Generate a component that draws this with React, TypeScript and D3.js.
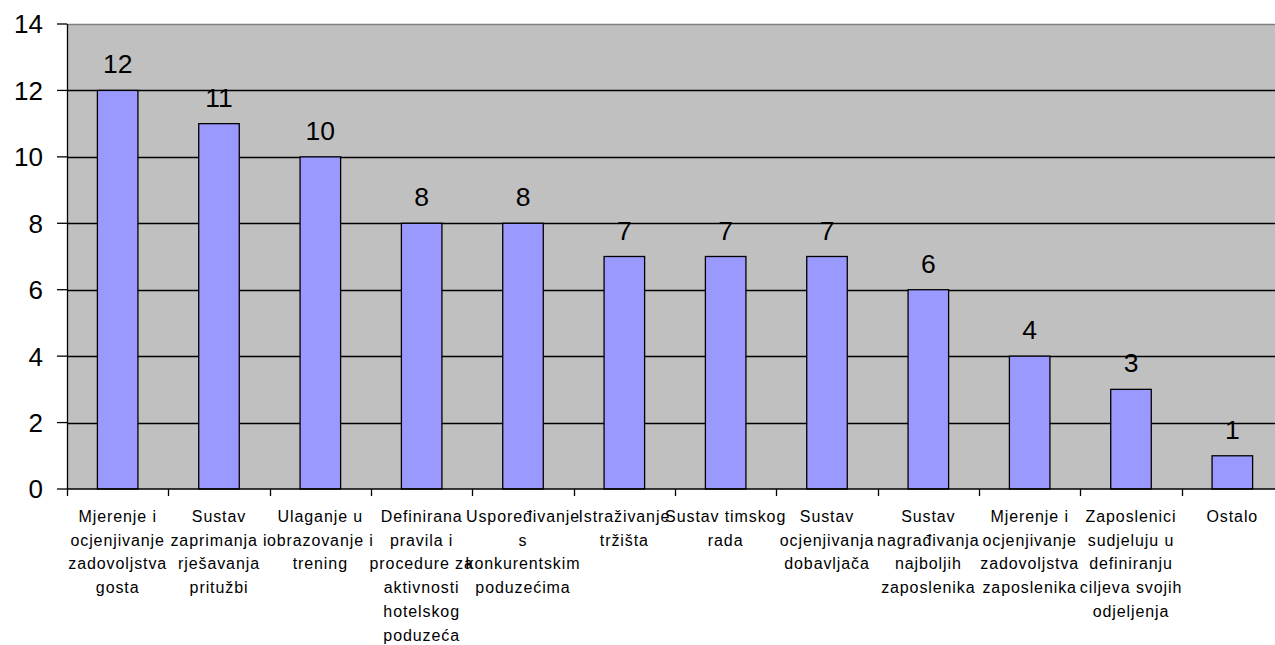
import React, { useEffect, useRef } from "react";
import * as d3 from "d3";

const categories: string[][] = [
  ["Mjerenje i", "ocjenjivanje", "zadovoljstva", "gosta"],
  ["Sustav", "zaprimanja i", "rješavanja", "pritužbi"],
  ["Ulaganje u", "obrazovanje i", "trening"],
  ["Definirana", "pravila i", "procedure za", "aktivnosti", "hotelskog", "poduzeća"],
  ["Uspoređivanje", "s", "konkurentskim", "poduzećima"],
  ["Istraživanje", "tržišta"],
  ["Sustav timskog", "rada"],
  ["Sustav", "ocjenjivanja", "dobavljača"],
  ["Sustav", "nagrađivanja", "najboljih", "zaposlenika"],
  ["Mjerenje i", "ocjenjivanje", "zadovoljstva", "zaposlenika"],
  ["Zaposlenici", "sudjeluju u", "definiranju", "ciljeva svojih", "odjeljenja"],
  ["Ostalo"],
];
const values = [12, 11, 10, 8, 8, 7, 7, 7, 6, 4, 3, 1];
const yTicks = [0, 2, 4, 6, 8, 10, 12, 14];

const FONT = "'Liberation Sans', Arial, sans-serif";

const App: React.FC = () => {
  const svgRef = useRef<SVGSVGElement | null>(null);

  useEffect(() => {
    if (!svgRef.current) return;
    const width = 1275;
    const height = 645;
    const margin = { top: 24, left: 67, bottom: 156 };
    const plotRight = 1283;
    const innerW = plotRight - margin.left;
    const innerH = height - margin.top - margin.bottom;

    const svg = d3.select(svgRef.current).attr("width", width).attr("height", height);
    svg.selectAll("*").remove();

    const idx = values.map((_, i) => String(i));
    const x = d3.scaleBand().domain(idx).range([0, innerW]).padding(0);
    const y = d3.scaleLinear().domain([0, 14]).range([innerH, 0]);

    const g = svg.append("g").attr("transform", `translate(${margin.left},${margin.top})`);

    // plot background
    g.append("rect")
      .attr("width", innerW)
      .attr("height", innerH)
      .attr("fill", "#C0C0C0");

    // gridlines
    g.selectAll(".grid")
      .data(yTicks.filter(t => t > 0 && t < 14))
      .enter()
      .append("line")
      .attr("x1", 0)
      .attr("x2", innerW)
      .attr("y1", d => Math.round(y(d)) + 0.5)
      .attr("y2", d => Math.round(y(d)) + 0.5)
      .attr("stroke", "#000")
      .attr("stroke-width", 1.5);

    // top border
    g.append("line")
      .attr("x1", 0)
      .attr("x2", innerW)
      .attr("y1", 0.5)
      .attr("y2", 0.5)
      .attr("stroke", "#808080")
      .attr("stroke-width", 1.5);

    // bars
    const barW = x.bandwidth() * 0.4;
    g.selectAll(".bar")
      .data(values)
      .enter()
      .append("rect")
      .attr("x", (_, i) => (x(String(i)) as number) + (x.bandwidth() - barW) / 2)
      .attr("y", d => y(d))
      .attr("width", barW)
      .attr("height", d => innerH - y(d))
      .attr("fill", "#9999FF")
      .attr("stroke", "#000")
      .attr("stroke-width", 1.3);

    // value labels
    g.selectAll(".val")
      .data(values)
      .enter()
      .append("text")
      .attr("x", (_, i) => (x(String(i)) as number) + x.bandwidth() / 2)
      .attr("y", d => y(d) - 17)
      .attr("text-anchor", "middle")
      .attr("font-family", FONT)
      .attr("font-size", 26.5)
      .attr("fill", "#000")
      .text(d => d);

    // y axis
    g.append("line")
      .attr("x1", 0.5).attr("x2", 0.5)
      .attr("y1", 0).attr("y2", innerH)
      .attr("stroke", "#000").attr("stroke-width", 1.3);
    yTicks.forEach(t => {
      g.append("line")
        .attr("x1", -10).attr("x2", 0)
        .attr("y1", y(t)).attr("y2", y(t))
        .attr("stroke", "#000").attr("stroke-width", 1.3);
      g.append("text")
        .attr("x", -24)
        .attr("y", y(t))
        .attr("dy", "0.36em")
        .attr("text-anchor", "end")
        .attr("font-family", FONT)
        .attr("font-size", 26)
        .attr("fill", "#000")
        .text(t);
    });

    // x axis
    g.append("line")
      .attr("x1", 0).attr("x2", innerW)
      .attr("y1", innerH).attr("y2", innerH)
      .attr("stroke", "#000").attr("stroke-width", 1.5);
    idx.forEach(k => {
      const xx = Math.round(x(k) as number) + 0.5;
      g.append("line")
        .attr("x1", xx).attr("x2", xx)
        .attr("y1", innerH).attr("y2", innerH + 7)
        .attr("stroke", "#000").attr("stroke-width", 1.3);
    });

    // category labels
    categories.forEach((lines, i) => {
      const cx = (x(String(i)) as number) + x.bandwidth() / 2;
      const t = g.append("text")
        .attr("text-anchor", "middle")
        .attr("font-family", FONT)
        .attr("font-size", 16)
        .attr("letter-spacing", 0.9)
        .attr("fill", "#000");
      lines.forEach((ln, j) => {
        t.append("tspan")
          .attr("x", cx)
          .attr("y", innerH + 33 + j * 23.7)
          .text(ln);
      });
    });
  }, []);

  return (
    <div style={{ position: "absolute", left: 0, top: 0, width: 1275, height: 645, overflow: "hidden", background: "#fff" }}>
      <svg ref={svgRef}></svg>
    </div>
  );
};

export default App;
